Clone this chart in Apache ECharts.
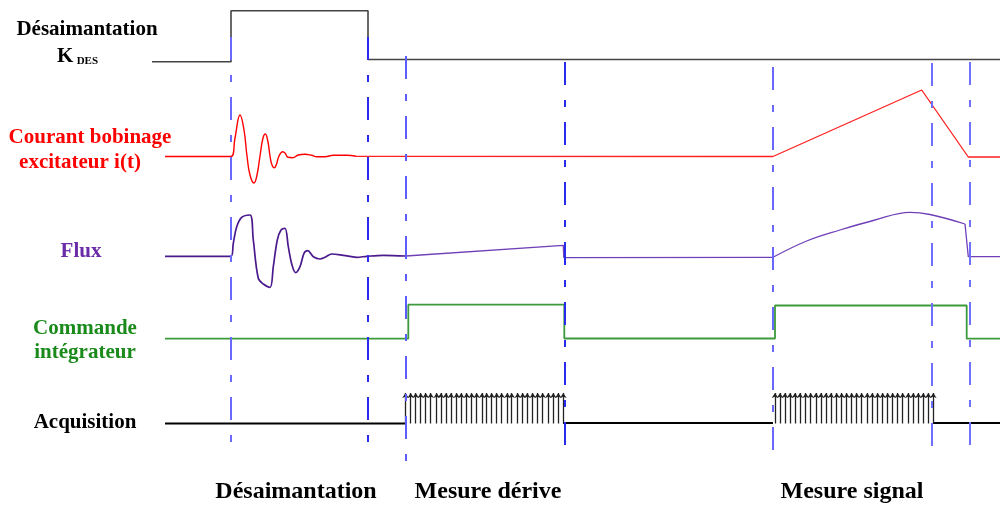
<!DOCTYPE html>
<html>
<head>
<meta charset="utf-8">
<script src="https://cdn.jsdelivr.net/npm/echarts@6/dist/echarts.min.js"></script>
<style>
  html, body { margin: 0; padding: 0; background: #fff; }
  #chart { width: 1000px; height: 505px; }
</style>
</head>
<body>
<div id="chart"></div>
<script>
// Chronogramme: désaimantation, courant, flux, commande intégrateur, acquisition.
// Time runs on x, each signal sits on its own level on an inverted y scale.

// ─── Data (time, level) ──────────────────────────────────────
const kdes = [[152, 61.7], [231, 61.7], [231, 10.7], [368, 10.7], [368, 59.5], [1000, 59.5]];

const courantOsc = [
  [165, 156.5], [231, 156.5], [235, 138], [240, 115], [244, 130], [247, 156], [250, 175],
  [254, 183], [257, 175], [260, 156], [263, 138], [265.3, 134], [268, 142], [270, 156],
  [272, 165], [274.3, 167.7], [276.5, 164], [279, 156], [282.7, 151.7], [285, 153],
  [288, 157.3], [292.7, 157.7], [298.3, 155], [305, 154.3], [311.7, 155.3], [316.7, 156.7],
  [325, 156.7], [333.3, 155.3], [346.7, 155.3], [356, 156.3],
];
const courantRamp = [[356, 156.3], [773, 156.5], [921.7, 90], [968.3, 157], [1000, 157]];

const fluxOsc = [
  [165, 256.3], [231, 256.3], [233.3, 243.3], [236.7, 226.7], [241.7, 217.3], [250, 215],
  [253.3, 240], [258.3, 278.3], [263.3, 284], [270, 287.3], [273.3, 266.7], [277.3, 240],
  [281, 230], [285, 228.3], [288.3, 246.7], [292, 265], [295.7, 272.7], [300, 266.7],
  [304, 253.3], [307.7, 250.7], [313.3, 256.7], [320, 259], [325, 257.3], [331.7, 254],
  [343.3, 255.3], [356.7, 257.3], [366.7, 256.3], [383.3, 255.3], [406, 256],
];
const fluxDrift = [[406, 256], [563.3, 245.3], [563.8, 257.7], [773, 257.3]];
const fluxSignal = [
  [773, 257.3], [806.7, 241], [840, 230], [873.3, 220.5], [910, 212.3], [930, 214.5],
  [965, 224],
];
const fluxEnd = [[965, 224], [968.3, 256.7], [1000, 256.7]];

const commande = [
  [165, 338.7], [408.3, 338.7], [408.3, 304.7], [564.3, 304.7], [564.3, 338.5],
  [775, 338.5], [775, 305.5], [966.7, 305.5], [966.7, 338.7], [1000, 338.7],
];

const acqBaseline = [
  [[165, 423.5], [406, 423.5]],
  [[563, 423], [773, 423]],
  [[933, 423], [1000, 423]],
];
const acqLow = 423.5;
const acqHigh = 393;
const pulsesDerive = [
  405.5, 410.7, 415.7, 420.7, 425.7, 430.7, 436.7, 441, 446, 451, 456.7, 461.3, 466.7,
  471.7, 476.7, 482, 486.7, 491.7, 496.7, 501.7, 507.3, 511.7, 517.7, 522.7, 527.3,
  532.7, 537.7, 542.7, 548.3, 553.3, 558.3, 563.3,
];
const pulsesSignal = [
  775, 780, 785, 790, 795, 800, 805.7, 810.7, 816, 821, 826, 831, 836.7, 841.7, 846.7,
  851.7, 856.7, 861.7, 867.3, 872.3, 877.7, 882.7, 887.7, 892.7, 897.7, 902.7, 908.3,
  913.3, 918.3, 923.3, 928.3, 933.3,
];

const markerTimes = [231, 368, 406, 565, 773, 932, 970];
const markerTop = [37, 37, 56, 62, 67, 63, 62];
const markerBottom = [452, 453, 465, 453, 465, 455, 452];

const signalLabels = ['Désaimantation', 'Courant bobinage', 'excitateur i(t)', 'Flux',
  'Commande', 'intégrateur', 'Acquisition'];
const phaseLabels = ['Désaimantation', 'Mesure dérive', 'Mesure signal'];

// ─── Styles / layout ─────────────────────────────────────────
const FONT = '"Liberation Serif", "Times New Roman", serif';
const MARKER_COLORS = ['#6a6aff', '#2a2af0', '#5c5cff', '#2a2aee', '#6868ff', '#6f6fff', '#7070ff'];
const SIGNAL_LABEL_POS = [[87, 30], [90, 138], [80, 163], [81, 252], [85, 329], [85, 353], [85, 423]];
const SIGNAL_LABEL_COLORS = ['#000', '#ff0000', '#ff0000', '#6a2ca8', '#1a8a1a', '#1a8a1a', '#000'];
const PHASE_LABEL_POS = [[296, 492], [488, 492], [852, 492]];

const chart = echarts.init(document.getElementById('chart'), null, { renderer: 'canvas' });

function pulseLines(times) {
  return times.map(t => ({ coords: [[t, acqLow], [t, acqHigh]] }));
}

function centeredText(s, pos, color, size) {
  return {
    type: 'text',
    x: pos[0],
    y: pos[1],
    style: {
      text: s,
      fill: color,
      font: 'bold ' + size + 'px ' + FONT,
      textAlign: 'center', textVerticalAlign: 'middle',
      align: 'center', verticalAlign: 'middle',
    },
  };
}

const textEls = signalLabels.map((s, i) => centeredText(s, SIGNAL_LABEL_POS[i], SIGNAL_LABEL_COLORS[i], 21))
  .concat(phaseLabels.map((s, i) => centeredText(s, PHASE_LABEL_POS[i], '#000', 24)))
  .concat([{
    type: 'text',
    x: 57,
    y: 57,
    style: {
      text: '{k|K} {d|DES}',
      textVerticalAlign: 'middle', verticalAlign: 'middle',
      rich: {
        k: { font: 'bold 21px ' + FONT, fill: '#000', verticalAlign: 'bottom' },
        d: { font: 'bold 11px ' + FONT, fill: '#000', verticalAlign: 'bottom', padding: [0, 0, 1, 0] },
      },
    },
  }]);

function plainLine(name, data, color, width, smooth) {
  return {
    name, type: 'line', data, showSymbol: false, smooth: smooth || false,
    lineStyle: { color, width },
  };
}

chart.setOption({
  backgroundColor: '#fff',
  animation: false,
  grid: { left: 0, right: 0, top: 0, bottom: 0 },
  xAxis: { type: 'value', min: 0, max: 1000, show: false },
  yAxis: { type: 'value', min: 0, max: 505, inverse: true, show: false },
  graphic: { elements: textEls },
  series: [
    plainLine('K DES', kdes, '#444', 1.6),
    plainLine('Courant osc', courantOsc, '#ff0000', 1.4, 0.45),
    plainLine('Courant', courantRamp, '#ff2020', 1.3),
    plainLine('Flux osc', fluxOsc, '#4b1a8c', 1.7, 0.35),
    plainLine('Flux dérive', fluxDrift, '#7040b8', 1.3),
    plainLine('Flux signal', fluxSignal, '#7040b8', 1.3, 0.4),
    plainLine('Flux fin', fluxEnd, '#7040b8', 1.3),
    plainLine('Commande', commande, '#3c9a3c', 1.8),
    {
      name: 'Acquisition', type: 'lines', coordinateSystem: 'cartesian2d', polyline: true,
      data: acqBaseline.map(c => ({ coords: c })),
      lineStyle: { color: '#000', width: 2, opacity: 1 },
    },
    {
      name: 'Pulses', type: 'lines', coordinateSystem: 'cartesian2d',
      data: pulseLines(pulsesDerive).concat(pulseLines(pulsesSignal)),
      symbol: ['none', 'arrow'], symbolSize: [1, 5],
      lineStyle: { color: '#222', width: 1.3, opacity: 1 },
    },
    {
      name: 'Markers', type: 'lines', coordinateSystem: 'cartesian2d', z: 5,
      data: markerTimes.map((t, i) => ({
        coords: [[t, markerTop[i]], [t, markerBottom[i]]],
        lineStyle: { color: MARKER_COLORS[i] },
      })),
      lineStyle: { width: 2, type: [23, 15, 7, 15], opacity: 1 },
    },
  ],
});
</script>
</body>
</html>
